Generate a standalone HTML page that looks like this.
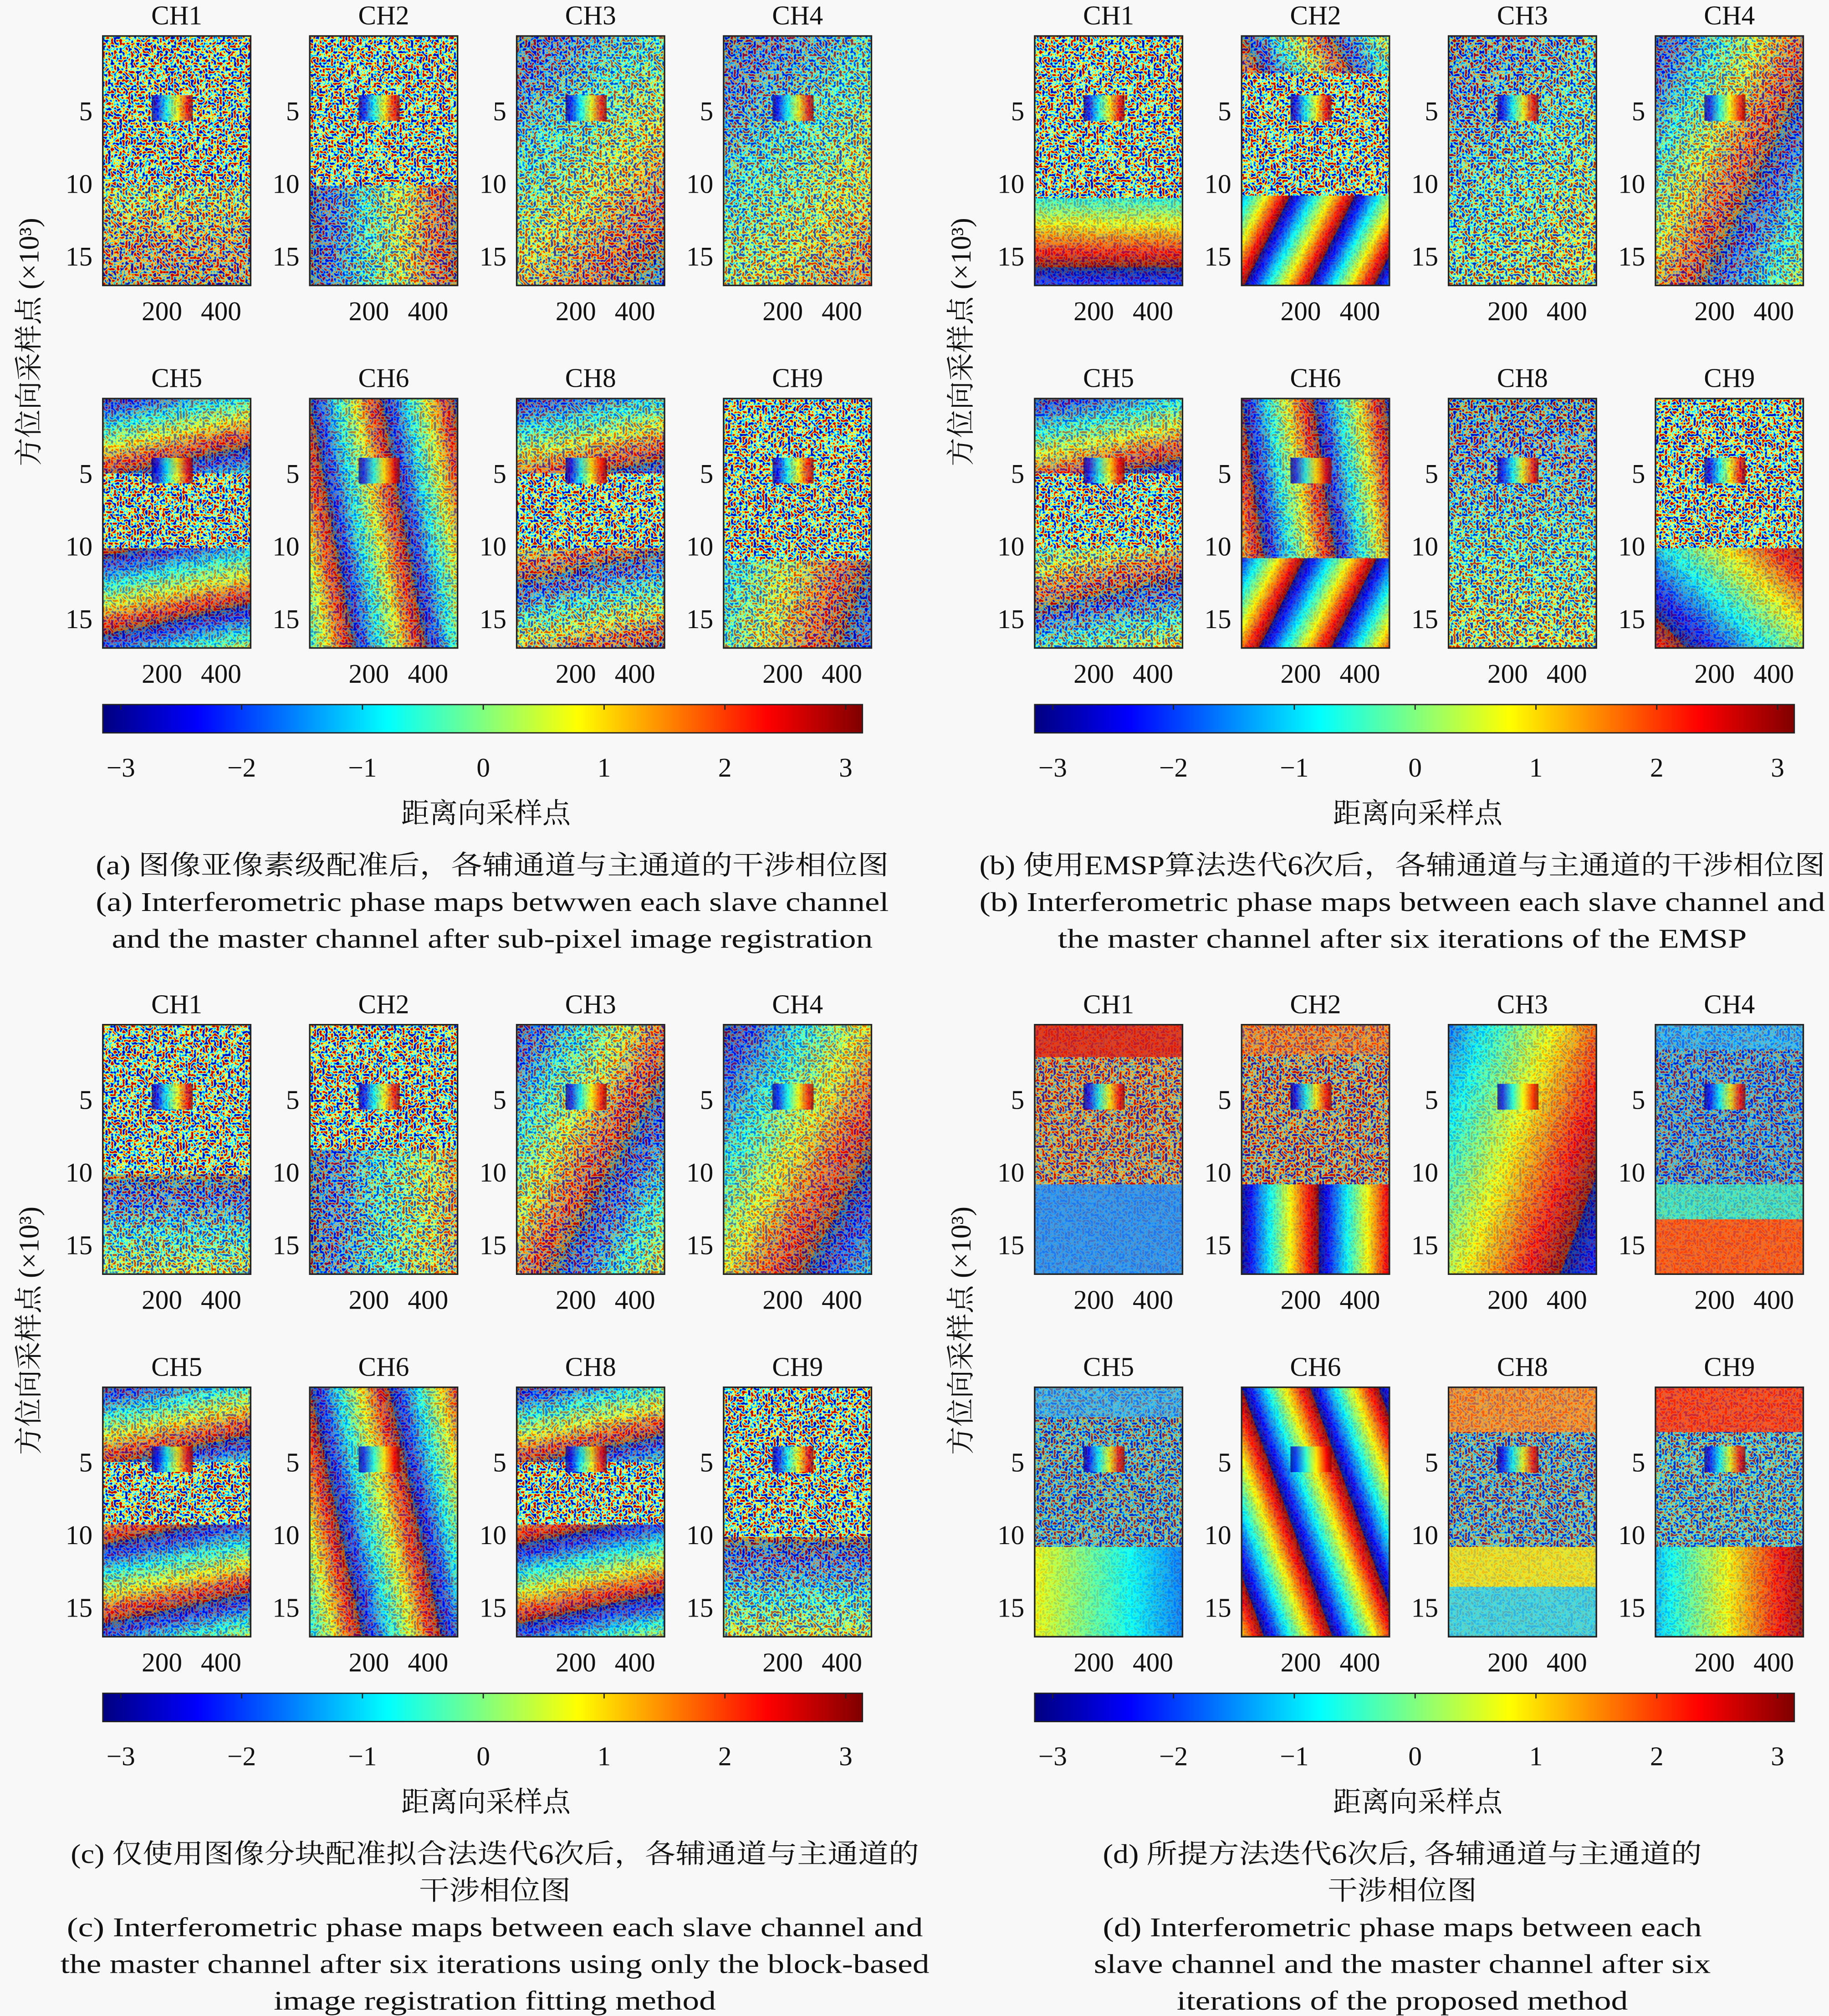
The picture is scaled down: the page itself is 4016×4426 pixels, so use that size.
<!DOCTYPE html>
<html><head><meta charset="utf-8"><style>
html,body{margin:0;padding:0;background:#f8f8f8}
svg{display:block}
text{font-family:"Liberation Serif","Noto Serif CJK SC","Noto Sans CJK SC",serif;fill:#111}
</style></head><body>
<svg id="fig" xmlns="http://www.w3.org/2000/svg" width="4016" height="4426" viewBox="0 0 1423 1568" preserveAspectRatio="none">
<defs>
<filter id="noise" x="0" y="0" width="100%" height="100%" filterUnits="objectBoundingBox">
<feTurbulence type="fractalNoise" baseFrequency="0.45" numOctaves="1" seed="3" result="t"/>
<feColorMatrix in="t" type="matrix" values="1 0 0 0 0  1 0 0 0 0  1 0 0 0 0  0 0 0 0 1" result="g"/>
<feComponentTransfer in="g" result="s"><feFuncR type="linear" slope="3" intercept="-1"/><feFuncG type="linear" slope="3" intercept="-1"/><feFuncB type="linear" slope="3" intercept="-1"/></feComponentTransfer>
<feComponentTransfer in="s">
<feFuncR type="table" tableValues="0 0 0 0 0.5 1 1 1 0.5"/>
<feFuncG type="table" tableValues="0 0 0.5 1 1 1 0.5 0 0"/>
<feFuncB type="table" tableValues="0.5 1 1 1 0.5 0 0 0 0"/>
<feFuncA type="table" tableValues="1 1"/>
</feComponentTransfer>
</filter>
<linearGradient id="jet" x1="0" x2="1" y1="0" y2="0">
<stop offset="0" stop-color="#000080"/><stop offset="0.125" stop-color="#0000ff"/><stop offset="0.375" stop-color="#00ffff"/><stop offset="0.5" stop-color="#80ff80"/><stop offset="0.625" stop-color="#ffff00"/><stop offset="0.875" stop-color="#ff0000"/><stop offset="1" stop-color="#800000"/>
</linearGradient>
</defs>
<g id="root"></g>
</svg>
<script>
const NS="http://www.w3.org/2000/svg";
const root=document.getElementById('root');
const defs=document.querySelector('defs');
const channelsTop=["CH1","CH2","CH3","CH4"];
const channelsBottom=["CH5","CH6","CH8","CH9"];
const yTicks=[5,10,15];
const xTicks=[200,400];
const cbTicks=[-3,-2,-1,0,1,2,3];
// layers per map, key "q-r-c": [y0frac,y1frac,normalAngleDeg,periodPx,opacity,phase] or [y0,y1,color,opacity]
const layers={
"0-0-0":[[0.6,1,90,200,0.2]],
"0-0-1":[[0.6,1,0,115,0.35]],
"0-0-2":[[0,1,45,200,0.3]],
"0-0-3":[[0,1,45,250,0.3]],
"0-1-0":[[0,0.3,78,60,0.5],[0.6,1,78,60,0.55]],
"0-1-1":[[0,1,-10,55,0.55]],
"0-1-2":[[0,0.3,78,70,0.45],[0.6,1,78,70,0.35]],
"0-1-3":[[0.65,1,20,150,0.4]],
"1-0-0":[[0.65,1,90,90,0.7]],
"1-0-1":[[0,0.15,-30,60,0.4],[0.64,1,27,45,0.85]],
"1-0-2":[[0,1,45,300,0.2]],
"1-0-3":[[0,1,27,120,0.4]],
"1-1-0":[[0,0.3,78,70,0.5],[0.6,1,78,80,0.35]],
"1-1-1":[[0,0.64,-8,55,0.6],[0.64,1,27,50,0.85]],
"1-1-2":[[0,1,90,300,0.2]],
"1-1-3":[[0.6,1,-45,120,0.7]],
"2-0-0":[[0.6,1,90,120,0.3]],
"2-0-1":[[0.5,1,0,150,0.3]],
"2-0-2":[[0,1,30,120,0.4]],
"2-0-3":[[0,1,30,150,0.5]],
"2-1-0":[[0,0.3,78,60,0.5],[0.55,1,78,60,0.55]],
"2-1-1":[[0,1,-12,60,0.6]],
"2-1-2":[[0,0.3,78,60,0.5],[0.55,1,78,60,0.6]],
"2-1-3":[[0.6,1,90,120,0.35]],
"3-0-0":[[0,0.13,'#e02010',0.85],[0.13,0.64,'#d04020',0.35],[0.64,1,'#2a8af0',0.85]],
"3-0-1":[[0,0.12,'#ff6010',0.6],[0.12,0.64,'#c03020',0.3],[0.64,1,0,60,0.85]],
"3-0-2":[[0,1,20,190,0.75,0.22]],
"3-0-3":[[0,0.1,'#20a0ff',0.7],[0.1,0.64,'#1050e0',0.4],[0.64,0.78,'#40e0c0',0.8],[0.78,1,'#ff5010',0.85]],
"3-1-0":[[0,0.12,'#30a0f0',0.7],[0.12,0.64,'#2060c0',0.35],[0.64,1,180,300,0.85,0.62]],
"3-1-1":[[0,1,-20,50,0.85]],
"3-1-2":[[0,0.18,'#ff8020',0.75],[0.18,0.64,'#3060c0',0.35],[0.64,0.8,'#f0e020',0.85],[0.8,1,'#40d0e0',0.85]],
"3-1-3":[[0,0.18,'#ff3010',0.8],[0.18,0.64,'#2080d0',0.35],[0.64,1,0,170,0.8,0.3]]
};
const captions=[
 ["(a) 图像亚像素级配准后，各辅通道与主通道的干涉相位图","(a) Interferometric phase maps betwwen each slave channel","and the master channel after sub-pixel image registration"],
 ["(b) 使用EMSP算法迭代6次后，各辅通道与主通道的干涉相位图","(b) Interferometric phase maps between each slave channel and","the master channel after six iterations of the EMSP"],
 ["(c) 仅使用图像分块配准拟合法迭代6次后，各辅通道与主通道的","干涉相位图","(c) Interferometric phase maps between each slave channel and","the master channel after six iterations using only the block-based","image registration fitting method"],
 ["(d) 所提方法迭代6次后, 各辅通道与主通道的","干涉相位图","(d) Interferometric phase maps between each","slave channel and the master channel after six","iterations of the proposed method"]
];
const captionWidths=[[617,617,592],[658,658,536],[660,118,666,676,344],[466,116,466,480,351]];
const captionCenters=[383,1091,385,1091];
function el(tag,attrs,parent,txt){const e=document.createElementNS(NS,tag);for(const k in attrs)e.setAttribute(k,attrs[k]);if(txt!==undefined)e.textContent=txt;(parent||root).appendChild(e);return e;}
const xScale=(v,mx)=>mx+(v/500)*115;
const yScale=(v,my)=>my+2+(v/17)*194*0.99;
const cbScale=(v,ox)=>ox+376+v*94;
let gid=0;
const jetStops=[["0","#000080"],["0.12","#0000ff"],["0.37","#00ffff"],["0.5","#80ff80"],["0.63","#ffff00"],["0.87","#ff0000"],["1","#800000"]];
for(let q=0;q<4;q++){
 const ox=(q%2)*725, oy=Math.floor(q/2)*769;
 const g=el('g',{});
 
 
 for(let r=0;r<2;r++){
  const names=r===0?channelsTop:channelsBottom;
  for(let c=0;c<4;c++){
   const mx=80+161*c+ox, my=28+282*r+oy;
   const t=el('text',{x:mx+57.5,y:my-9,'text-anchor':'middle','font-size':21},g,names[c]);
   
   
   const m=el('rect',{x:mx,y:my,width:115,height:194,fill:'#888',filter:'url(#noise)'},g);
   
   
   (layers[q+'-'+r+'-'+c]||[]).forEach(f=>{
     const y0=my+194*f[0], h=194*(f[1]-f[0]);
     let fill, op;
     if(typeof f[2]==='string'){fill=f[2];op=f[3];}
     else{
       const id='fr'+(gid++);
       const a=f[2]*Math.PI/180, dx=Math.cos(a), dy=Math.sin(a), ph=(f[5]||0)*f[3];
       const x1=mx-ph*dx, y1=my-ph*dy;
       const lg=el('linearGradient',{id:id,gradientUnits:'userSpaceOnUse',spreadMethod:'repeat',x1:x1,y1:y1,x2:x1+f[3]*dx,y2:y1+f[3]*dy},defs);
       jetStops.forEach(s=>el('stop',{offset:s[0],'stop-color':s[1]},lg));
       fill='url(#'+id+')';op=f[4];
     }
     const fr=el('rect',{x:mx,y:y0,width:115,height:h,fill:fill,opacity:op},g);
     
     
   });
   const tg=el('rect',{x:mx+38,y:my+46,width:32,height:20,fill:'url(#jet)',opacity:0.75},g);
   
   
   const fb=el('rect',{x:mx,y:my,width:115,height:194,fill:'none',stroke:'#222','stroke-width':1.2},g);
   
   
   yTicks.forEach(v=>{const tt=el('text',{x:mx-8,y:yScale(v,my)+7,'text-anchor':'end','font-size':21},g,String(v));
     
     });
   xTicks.forEach(v=>{const tt=el('text',{x:xScale(v,mx),y:my+221,'text-anchor':'middle','font-size':21},g,String(v));
     
     });
  }
 }
 const yl=el('text',{transform:'translate('+(30+ox)+','+(266+oy)+') rotate(-90)','text-anchor':'middle','font-size':22},g,'方位向采样点 (×10³)');
 
 
 const cb=el('rect',{x:80+ox,y:548+oy,width:591,height:22,fill:'url(#jet)',stroke:'#222','stroke-width':1},g);
 
 
 cbTicks.forEach(v=>{const x=cbScale(v,ox);
   const tl=el('line',{x1:x,x2:x,y1:548+oy,y2:552+oy,stroke:'#222'},g);
   
   
   const tt=el('text',{x:x,y:604+oy,'text-anchor':'middle','font-size':21},g,v<0?'−'+(-v):String(v));
   
   });
 const xl=el('text',{x:378+ox,y:640+oy,'text-anchor':'middle','font-size':22},g,'距离向采样点');
 
 
 captions[q].forEach((line,i)=>{
   const w=captionWidths[q][i];
   const ct=el('text',{x:captionCenters[q]-w/2,y:680+oy+i*28.5,'font-size':21,textLength:w,lengthAdjust:'spacingAndGlyphs'},g,line);
   
   });
}
</script>
</body></html>
